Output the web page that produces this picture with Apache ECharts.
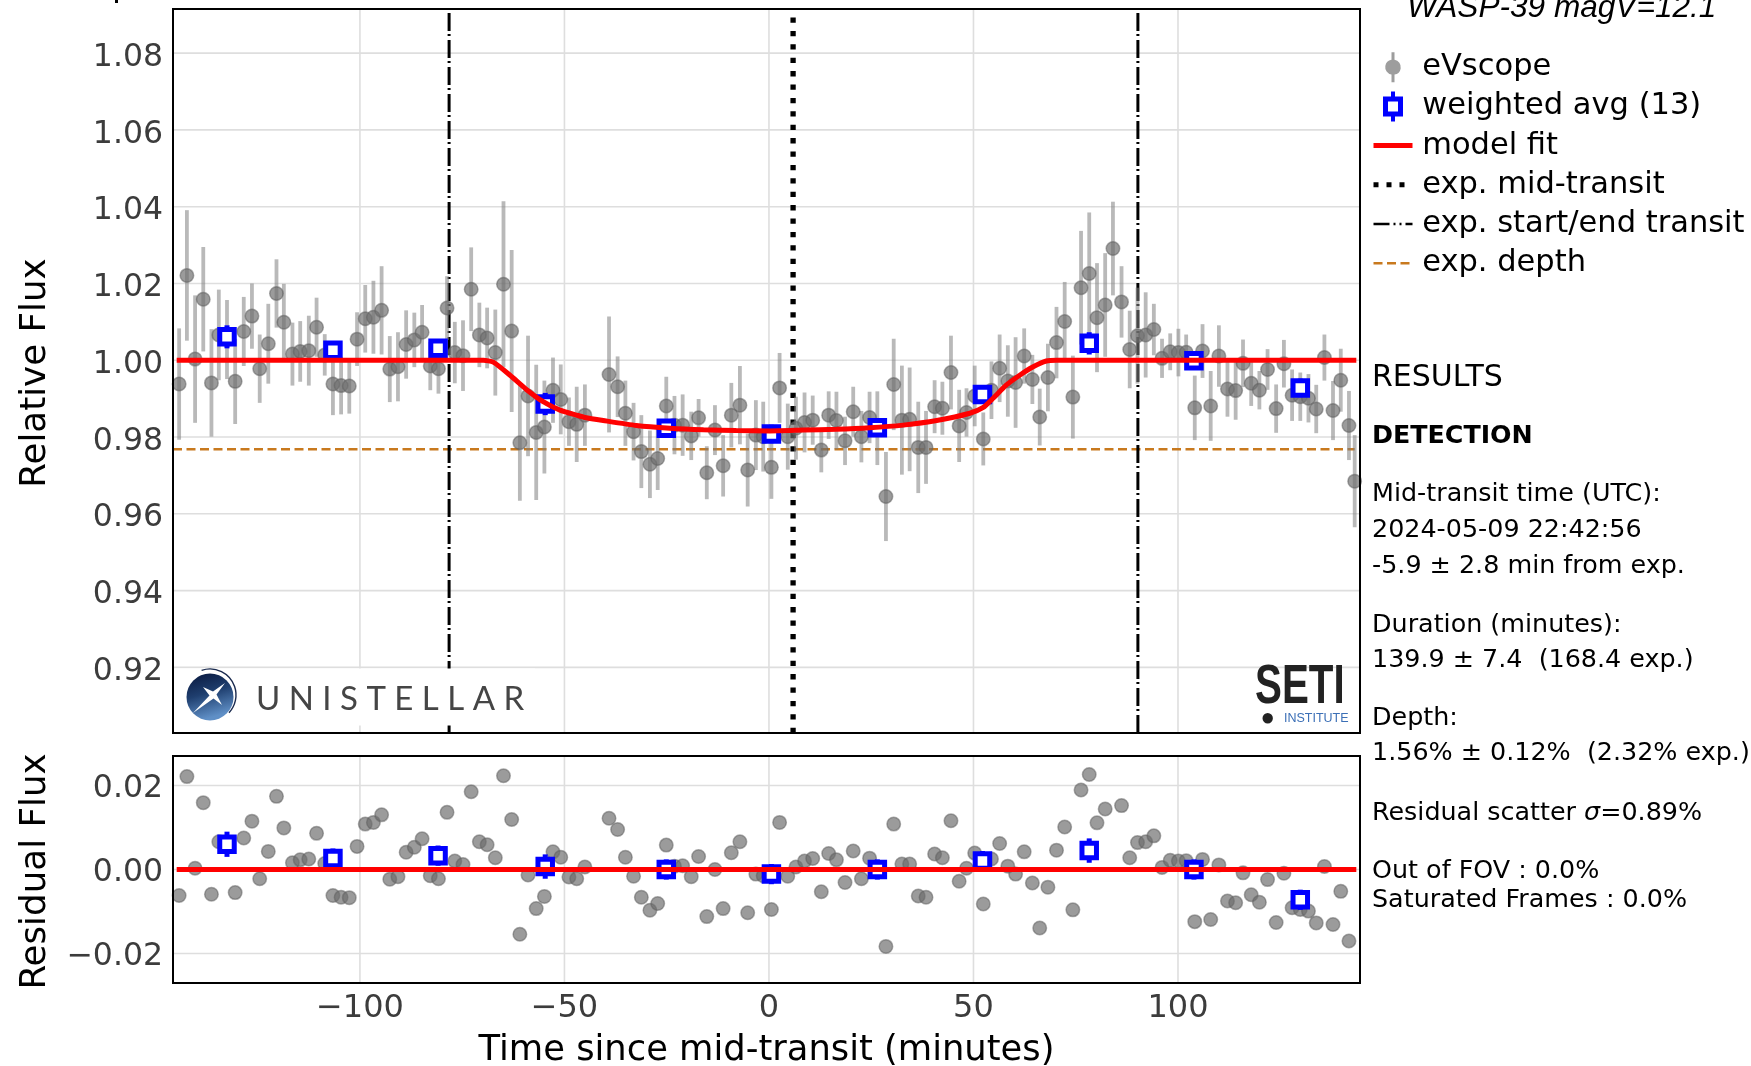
<!DOCTYPE html>
<html>
<head>
<meta charset="utf-8">
<style>html,body{margin:0;padding:0;background:#fff}#c{width:1751px;height:1066px}</style>
<script src="https://cdn.jsdelivr.net/npm/echarts@6/dist/echarts.min.js"></script>
</head>
<body>
<div id="c"></div>
<script>
const times = [-144.2,-142.3,-140.3,-138.3,-136.3,-134.5,-132.5,-130.5,-128.4,-126.4,
-124.5,-122.4,-120.4,-118.6,-116.5,-114.6,-112.5,-110.6,-108.6,-106.6,
-104.6,-102.6,-100.7,-98.7,-96.7,-94.7,-92.7,-90.7,-88.7,-86.7,
-84.8,-82.8,-80.8,-78.7,-76.8,-74.8,-72.8,-70.8,-68.9,-66.9,
-64.9,-62.9,-60.9,-58.9,-56.9,-54.9,-52.8,-50.9,-48.9,-47.0,
-45.0,-39.1,-37.0,-35.1,-33.1,-31.2,-29.1,-27.2,-25.1,-23.1,
-21.1,-19.0,-17.2,-15.2,-13.2,-11.2,-9.2,-7.1,-5.2,-3.2,
-1.4,0.6,2.6,4.6,6.6,8.7,10.7,12.8,14.6,16.5,
18.6,20.6,22.6,24.6,26.5,28.6,30.5,32.5,34.4,36.5,
38.4,40.5,42.4,44.5,46.5,48.3,50.3,52.4,54.4,56.4,
58.4,60.3,62.4,64.4,66.2,68.2,70.3,72.3,74.3,76.3,
78.3,80.2,82.2,84.1,86.2,88.2,90.1,92.1,94.1,96.1,
98.1,100.1,102.0,104.1,106.0,108.0,110.0,112.1,114.1,115.9,
117.9,119.9,121.9,124.0,125.9,127.9,129.9,131.9,133.8,135.8,
137.9,139.8,141.8,143.2];
const flux = [.9938,1.0221,1.0003,1.0159,.9941,1.0066,1.0054,.9945,1.0075,1.0115,
.9978,1.0043,1.0174,1.0099,1.0016,1.0023,1.0025,1.0086,1.0014,.9938,
.9934,.9933,1.0055,1.0108,1.0112,1.0130,.9977,.9983,1.0041,1.0053,
1.0073,.9985,.9978,1.0136,1.0020,1.0012,1.0185,1.0066,1.0058,1.0020,
1.0198,1.0076,.9785,.9907,.9812,.9826,.9922,.9898,.9840,.9833,
.9857,.9963,.9931,.9862,.9814,.9762,.9729,.9744,.9881,.9831,
.9831,.9803,.9850,.9707,.9818,.9725,.9857,.9883,.9714,.9805,
.9801,.9721,.9928,.9801,.9823,.9838,.9844,.9766,.9857,.9843,
.9790,.9866,.9801,.9851,.9823,.9645,.9937,.9844,.9846,.9773,
.9773,.9879,.9875,.9968,.9829,.9864,.9907,.9795,.9922,.9979,
.9946,.9942,1.0011,.9950,.9852,.9955,1.0046,1.0101,.9904,1.0189,
1.0226,1.0111,1.0144,1.0291,1.0152,1.0028,1.0064,1.0066,1.0080,1.0005,
1.0022,1.0020,1.0021,.9876,1.0024,.9881,1.0011,.9925,.9921,.9992,
.9940,.9922,.9976,.9874,.9991,.9909,.9905,.9901,.9873,1.0007,
.9869,.9948,.9830,.9685];
const fluxErr = [.0145,.0170,.0166,.0136,.0140,.0118,.0103,.0111,.0090,.0085,
.0089,.0104,.0089,.0100,.0082,.0079,.0091,.0077,.0054,.0081,
.0075,.0072,.0070,.0088,.0095,.0115,.0086,.0090,.0089,.0071,
.0071,.0063,.0065,.0083,.0080,.0092,.0109,.0084,.0079,.0112,
.0216,.0211,.0151,.0157,.0176,.0121,.0085,.0091,.0063,.0098,
.0080,.0151,.0079,.0085,.0075,.0095,.0088,.0082,.0076,.0076,
.0080,.0063,.0049,.0069,.0065,.0080,.0084,.0102,.0095,.0091,
.0091,.0082,.0091,.0086,.0082,.0078,.0064,.0058,.0062,.0075,
.0063,.0065,.0067,.0067,.0096,.0116,.0119,.0142,.0135,.0119,
.0095,.0069,.0069,.0096,.0094,.0063,.0079,.0069,.0075,.0088,
.0093,.0118,.0072,.0064,.0074,.0088,.0093,.0103,.0108,.0148,
.0159,.0142,.0135,.0122,.0093,.0101,.0125,.0111,.0067,.0051,
.0048,.0062,.0046,.0084,.0070,.0091,.0080,.0072,.0076,.0062,
.0059,.0050,.0053,.0063,.0062,.0067,.0063,.0063,.0063,.0060,
.0077,.0082,.0090,.0120];
const resid = [-.0062,.0221,.0003,.0159,-.0059,.0066,.0054,-.0055,.0075,.0115,
-.0022,.0043,.0174,.0099,.0016,.0023,.0025,.0086,.0014,-.0062,
-.0066,-.0067,.0055,.0108,.0112,.0130,-.0023,-.0017,.0041,.0053,
.0073,-.0015,-.0022,.0136,.0020,.0012,.0185,.0066,.0059,.0028,
.0223,.0119,-.0154,-.0013,-.0093,-.0064,.0042,.0029,-.0018,-.0022,
.0006,.0122,.0095,.0029,-.0016,-.0066,-.0097,-.0081,.0058,.0008,
.0009,-.0017,.0031,-.0112,0,-.0093,.0040,.0066,-.0103,-.0011,
-.0015,-.0095,.0112,-.0016,.0006,.0020,.0026,-.0053,.0038,.0023,
-.0031,.0044,-.0022,.0027,-.0003,-.0183,.0108,.0013,.0013,-.0063,
-.0066,.0037,.0028,.0116,-.0028,.0003,.0039,-.0082,.0025,.0062,
.0008,-.0011,.0042,-.0032,-.0139,-.0042,.0046,.0101,-.0096,.0189,
.0226,.0111,.0144,.0291,.0152,.0028,.0064,.0066,.0080,.0005,
.0022,.0020,.0021,-.0124,.0024,-.0119,.0011,-.0075,-.0079,-.0008,
-.0060,-.0078,-.0024,-.0126,-.0009,-.0091,-.0095,-.0099,-.0127,.0007,
-.0131,-.0052,-.0170,-.0315];
const avgT = [-132.5,-106.6,-80.9,-54.7,-25.1,0.6,26.5,52.2,78.3,103.9,129.9];
const avgF = [1.0061,1.0026,1.0031,.9886,.9823,.9808,.9824,.9911,1.0044,.9999,.9928];
const avgE = [.0030,.0024,.0024,.0029,.0024,.0024,.0024,.0024,.0029,.0024,.0024];
const avgR = [.0060,.0026,.0033,.0007,0,-.0011,0,.0020,.0045,0,-.0072];
const modelT = [-144.8,-69.8,-67.4,-63.3,-59.3,-55.2,-51.1,-47,-45,-40.5,-32.4,-24.2,-16,-8,0.2,8.4,16.5,24.6,32.8,41,49.1,52.4,54.8,58,61.3,64.6,67.8,70.3,143.6];
const modelF = [1,1,.9995,.9961,.9924,.9892,.9870,.9857,.9851,.9843,.9830,.9823,.9819,.9817,.9816,.9818,.9820,.9824,.9831,.9843,.9862,.9877,.9901,.9935,.9961,.9983,.9998,1,1];
const zeroT = [-144.8,143.6];
const zeroR = [0,0];
const expStartEnd = [-78.2,90.2];
const expMid = [5.9];
const expDepth = .9768;
const depthT = [-145.7,143.2];
const tickX = [-100,-50,0,50,100];
const tickF = [.92,.94,.96,.98,1,1.02,1.04,1.06,1.08];
const tickR = [-.02,0,.02];
const xRange = [-145.7,144.5];
const fRange = [.9029,1.0915];
const rRange = [-.027,.027];

const FONT = '"DejaVu Sans"';
const names = {ev:'eVscope',avg:'weighted avg (13)',fit:'model fit',mid:'exp. mid-transit',se:'exp. start/end transit',dep:'exp. depth'};

function errSeries(name,xi,yi,T,V,E,stroke,w,z){
  return {type:'custom',name,xAxisIndex:xi,yAxisIndex:yi,clip:true,z,silent:true,
    data:T.map((t,i)=>[t,V[i]-E[i],V[i]+E[i]]),
    encode:{x:0,y:[1,2]},
    renderItem(p,api){
      const a=api.coord([api.value(0),api.value(1)]),b=api.coord([api.value(0),api.value(2)]);
      return {type:'line',shape:{x1:a[0],y1:a[1],x2:b[0],y2:b[1]},style:{stroke,lineWidth:w,fill:null}};
    }};
}
// Grid lines at the labelled ticks only; the axis would otherwise choose its own split positions.
function gridSeries(name,gi,yTicks,yRange){
  const segs=tickX.map(t=>[t,yRange[0],t,yRange[1]]).concat(yTicks.map(v=>[xRange[0],v,xRange[1],v]));
  return {type:'custom',name,xAxisIndex:gi,yAxisIndex:gi,clip:true,z:1,silent:true,data:segs,
    encode:{x:[0,2],y:[1,3]},
    renderItem(p,api){
      const a=api.coord([api.value(0),api.value(1)]),b=api.coord([api.value(2),api.value(3)]);
      return {type:'line',shape:{x1:a[0],y1:a[1],x2:b[0],y2:b[1]},style:{stroke:'#dedede',lineWidth:1.6,fill:null}};
    }};
}
function grey(xi,V,name){
  return {type:'scatter',name,xAxisIndex:xi,yAxisIndex:xi,z:4,symbol:'circle',symbolSize:13.5,clip:true,
    itemStyle:{color:'rgba(108,108,108,0.85)',borderColor:'rgba(95,95,95,0.65)',borderWidth:1.5},
    data:times.map((t,i)=>[t,V[i]])};
}
function blue(xi,V,name){
  return {type:'scatter',name,xAxisIndex:xi,yAxisIndex:xi,z:6,symbol:'rect',symbolSize:14.5,
    itemStyle:{color:'#fff',borderColor:'#0000ff',borderWidth:5,opacity:1},
    data:avgT.map((t,i)=>[t,V[i]])};
}
function lineS(name,xi,data,style,z,smooth){
  return {type:'line',name,xAxisIndex:xi,yAxisIndex:xi,data,showSymbol:false,symbol:'none',z,smooth:smooth||false,silent:true,lineStyle:style};
}
const dashDot={color:'#000',width:3,type:[18,4,2,3]};
const dotted={color:'#000',width:5.3,type:[5.3,8.1]};
const orange={color:'#c8791e',width:2.4,type:[9,4.5]};
const red={color:'#ff0000',width:5};

function yAxis(gi,range,ticks,name,gap,fmt,lh){
  return {type:'value',gridIndex:gi,min:range[0],max:range[1],name,nameLocation:'middle',nameGap:gap,
    nameTextStyle:{fontFamily:FONT,fontSize:35.7,color:'#000',padding:[0,4,0,0]},
    axisLine:{show:false},axisTick:{show:false},
    axisLabel:{customValues:ticks,margin:10,fontFamily:FONT,fontSize:31.5,color:'#3c3c3c',formatter:fmt,verticalAlign:'top',lineHeight:lh},
    splitLine:{show:false}};
}
function xAxis(gi,showLabel,name){
  return {type:'value',gridIndex:gi,min:xRange[0],max:xRange[1],name,nameLocation:'middle',nameGap:50,
    nameTextStyle:{fontFamily:FONT,fontSize:35.3,color:'#000'},
    axisLine:{show:false},axisTick:{show:false},
    axisLabel:{show:showLabel,customValues:tickX,margin:10,fontFamily:FONT,fontSize:32,color:'#3c3c3c',
      formatter:v=>String(v).replace('-','\u2212')},
    splitLine:{show:false}};
}
const txt=(t,y,size,extra)=>({type:'text',x:1372,y:y+2.3,z:60,style:Object.assign({text:t,fontFamily:FONT,fontSize:size,fill:'#000',verticalAlign:'middle'},extra||{})});

const option={
  animation:false,backgroundColor:'#fff',
  grid:[
    {left:173,top:9,width:1187,height:724,show:true,borderColor:'#000',borderWidth:2,backgroundColor:'transparent',z:10,outerBoundsMode:'none'},
    {left:173,top:756,width:1187,height:227,show:true,borderColor:'#000',borderWidth:2,backgroundColor:'transparent',z:10,outerBoundsMode:'none'}
  ],
  xAxis:[xAxis(0,false,''),xAxis(1,true,'Time since mid-transit (minutes)')],
  yAxis:[
    yAxis(0,fRange,tickF,'Relative Flux',119,v=>v.toFixed(2),9),
    yAxis(1,rRange,tickR,'Residual Flux',119,v=>v.toFixed(2).replace('-','\u2212'),7)
  ],
  legend:{orient:'vertical',left:1371,top:51.7,padding:0,itemWidth:39,itemHeight:30,itemGap:8.2,selectedMode:false,
    textStyle:{fontFamily:FONT,fontSize:30.5,color:'#000',lineHeight:30,padding:[0,0,0,4.7]},
    data:[
      {name:names.ev,icon:'path://M6 0h3v7.6a7.5 7.5 0 0 1 0 14.8v7.6h-3v-7.6a7.5 7.5 0 0 1 0-14.8z',itemStyle:{color:'#858585',borderWidth:0}},
      {name:names.avg,icon:'path://M8 0h4v5h8v20h-8v5h-4v-5h-8v-20h8zM5 10v10h10v-10z',itemStyle:{color:'#0000ff',borderWidth:0,opacity:1}},
      {name:names.fit,itemStyle:{opacity:0},lineStyle:{width:5,color:'#ff0000'}},
      {name:names.mid,itemStyle:{opacity:0},lineStyle:{width:5,color:'#000',type:[5,8]}},
      {name:names.se,itemStyle:{opacity:0},lineStyle:{width:2.4,color:'#000',type:[16,4,2,4,2,4]}},
      {name:names.dep,itemStyle:{opacity:0},lineStyle:{width:2.4,color:'#c8791e',type:[9,4.5]}}
    ]},
  series:[
    gridSeries('main grid',0,tickF,fRange),
    gridSeries('residual grid',1,tickR,rRange),
    lineS(names.dep,0,depthT.map(t=>[t,expDepth]),orange,2),
    lineS(names.se,0,[[expStartEnd[0],fRange[0]],[expStartEnd[0],fRange[1]]],dashDot,2),
    lineS('end transit',0,[[expStartEnd[1],fRange[0]],[expStartEnd[1],fRange[1]]],dashDot,2),
    lineS(names.mid,0,[[expMid[0],fRange[0]],[expMid[0],fRange[1]]],dotted,2),
    errSeries('eVscope error',0,0,times,flux,fluxErr,'rgba(128,128,128,0.55)',3.8,3),
    grey(0,flux,names.ev),
    errSeries('avg error',0,0,avgT,avgF,avgE,'#0000ff',5,5),
    blue(0,avgF,names.avg),
    lineS(names.fit,0,modelT.map((t,i)=>[t,modelF[i]]),red,7,0.2),
    errSeries('resid error',1,1,avgT,avgR,avgE,'#0000ff',5,5),
    grey(1,resid,'residuals'),
    blue(1,avgR,'avg residuals'),
    lineS('zero',1,zeroT.map((t,i)=>[t,zeroR[i]]),red,7)
  ],
  graphic:[
    {type:'text',x:1407,y:24,z:60,style:{text:'WASP-39 magV=12.1',fontFamily:'"Liberation Sans"',fontStyle:'italic',fontSize:31.6,fill:'#000',verticalAlign:'bottom'}},
    txt('RESULTS',376,30),
    txt('DETECTION',434.5,25.3,{fontWeight:'bold'}),
    txt('Mid-transit time (UTC):',492.5,25.4),
    txt('2024-05-09 22:42:56',528,25.4),
    txt('-5.9 \u00b1 2.8 min from exp.',564,25.4),
    txt('Duration (minutes):',623,25.4),
    txt('139.9 \u00b1 7.4  (168.4 exp.)',658,25.4),
    txt('Depth:',716,25.4),
    txt('1.56% \u00b1 0.12%  (2.32% exp.)',751.5,25.4),
    txt('Residual scatter {i|\u03c3}=0.89%',810.7,25.4,{rich:{i:{fontStyle:'italic',fontFamily:FONT,fontSize:25.4,fill:'#000'}}}),
    txt('Out of FOV : 0.0%',869,25.4),
    txt('Saturated Frames : 0.0%',898,25.4),
    // Unistellar logo
    {type:'rect',z:50,shape:{x:175,y:668.5,width:360,height:57},style:{fill:'#fff'}},
    {type:'circle',z:51,shape:{cx:210,cy:697,r:23.5},style:{fill:{type:'linear',x:0,y:0,x2:0.3,y2:1,colorStops:[{offset:0,color:'#08163c'},{offset:0.5,color:'#1f3f6f'},{offset:1,color:'#5f8fc6'}]}}},
    {type:'arc',z:51,shape:{cx:210,cy:695,r:26,startAngle:-1.9,endAngle:0.75},style:{stroke:'#1a2a4e',lineWidth:1.4,fill:null}},
    {type:'polygon',z:52,shape:{points:[[225,683],[216.5,694.5],[222,705],[213.5,698.5],[193,713],[209.5,695.5],[203,687],[213,691.5]]},style:{fill:'#fff'}},
    {type:'text',x:256,y:699.5,z:52,style:{text:'U N I S T E L L A R',fontFamily:'Lato',fontSize:33,fill:'#454545',verticalAlign:'middle'}},
    // SETI logo
    {type:'text',x:1255,y:688,z:52,scaleX:0.72,style:{text:'SETI',fontFamily:'"Liberation Sans"',fontWeight:'bold',fontSize:56,fill:'#222',verticalAlign:'middle'}},
    {type:'circle',z:52,shape:{cx:1267.7,cy:718.3,r:5.2},style:{fill:'#222'}},
    {type:'text',x:1284,y:718.5,z:52,style:{text:'INSTITUTE',fontFamily:'"Liberation Sans"',fontSize:12.5,fill:'#3b6fb6',verticalAlign:'middle'}},
    {type:'rect',z:60,shape:{x:115,y:0,width:3,height:3},style:{fill:'#000'}}
  ]
};
const chart=echarts.init(document.getElementById('c'),null,{renderer:'canvas'});
chart.setOption(option);
</script>
</body>
</html>
